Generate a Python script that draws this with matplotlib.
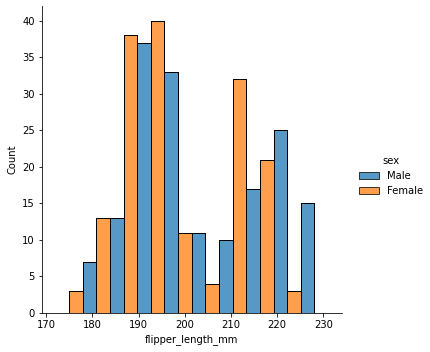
import numpy as np
import matplotlib
matplotlib.use("Agg")
import matplotlib.pyplot as plt
from matplotlib.patches import Patch

# histogram of penguin flipper length, dodged by sex
bin_edges = [172.0, 177.9, 183.8, 189.7, 195.6, 201.5, 207.4, 213.3, 219.2, 225.1, 231.0]
male_counts = [0, 7, 13, 37, 33, 11, 10, 17, 25, 15]
female_counts = [3, 13, 38, 40, 11, 4, 32, 21, 3, 0]
hue_names = ["Male", "Female"]
colors = ["#1f77b4", "#ff7f0e"]

plt.rcParams["font.family"] = "DejaVu Sans"
plt.rcParams["font.size"] = 10

fig = plt.figure(figsize=(430 / 72, 352 / 72), dpi=72)
ax = fig.add_axes([41.7 / 430, 1 - 313 / 352, 300 / 430, 307 / 352])

edges = np.array(bin_edges)
left = edges[:-1]
width = np.diff(edges) / 2
for i, counts in enumerate([male_counts, female_counts]):
    ax.bar(left + i * width, counts, width=width, align="edge",
           color=colors[i], alpha=0.75, edgecolor="black", linewidth=1)
    # redraw outline without alpha
    ax.bar(left + i * width, counts, width=width, align="edge",
           facecolor="none", edgecolor="black", linewidth=1)

ax.set_xlim(169.05, 233.95)
ax.set_ylim(0, 42)
ax.set_xticks([170, 180, 190, 200, 210, 220, 230])
ax.set_yticks(range(0, 41, 5))
ax.set_xlabel("flipper_length_mm")
ax.set_ylabel("Count")
ax.spines["top"].set_visible(False)
ax.spines["right"].set_visible(False)

handles = [Patch(facecolor=c, alpha=0.75, edgecolor="black", linewidth=1) for c in colors]
leg = fig.legend(handles, hue_names, title="sex", frameon=False,
                 loc="center left", bbox_to_anchor=(350 / 430, 1 - 176 / 352))
for h in leg.legend_handles:
    h.set_edgecolor("black")

fig.savefig("out.png", dpi=72)
